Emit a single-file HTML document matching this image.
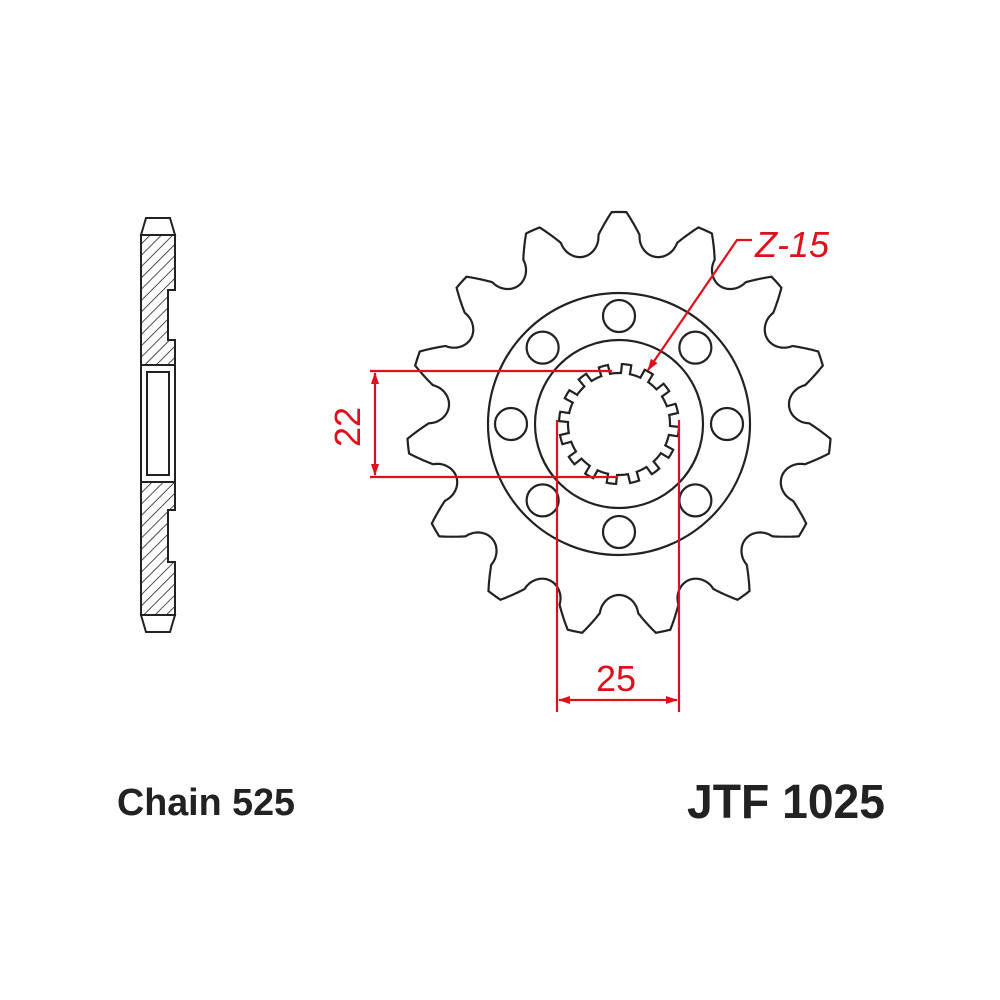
<!DOCTYPE html>
<html><head><style>body{margin:0;background:#fff}svg{display:block}</style></head>
<body>
<svg id="s" width="1000" height="1000" viewBox="0 0 1000 1000" xmlns="http://www.w3.org/2000/svg">
<defs>
<pattern id="h" patternUnits="userSpaceOnUse" width="8" height="8" patternTransform="rotate(45)">
<line x1="0" y1="0" x2="0" y2="8" stroke="#222" stroke-width="1.6"/>
</pattern>
<marker id="a" markerWidth="12" markerHeight="8" refX="11" refY="4" orient="auto" markerUnits="userSpaceOnUse">
<path d="M0,0 L12,4 L0,8 z" fill="#e0101a"/>
</marker>
</defs>
<g fill="none" stroke="#222" stroke-width="2.2">
<path id="teeth"/>
<circle cx="619" cy="424" r="131"/>
<circle cx="619" cy="424" r="84"/>
<path id="spl"/>
<g id="holes"></g>
</g>
<g stroke="#222" stroke-width="2" fill="url(#h)">
<path d="M141,235 L175,235 L175,290 L168,290 L168,340 L175,340 L175,365 L141,365 Z"/>
<path d="M141,482 L175,482 L175,510 L168,510 L168,562 L175,562 L175,615 L141,615 Z"/>
</g>
<g stroke="#222" stroke-width="2" fill="#fff">
<path d="M141,235 L146,218 L170,218 L175,235 Z"/>
<path d="M141,615 L146,632 L170,632 L175,615 Z"/>
<rect x="141" y="365" width="34" height="117"/>
<rect x="147" y="372" width="22" height="103"/>
</g>
<g stroke="#e0101a" stroke-width="2.2" fill="none">
<line x1="370" y1="371" x2="612" y2="371"/>
<line x1="370" y1="477" x2="618" y2="477"/>
<line x1="375" y1="424" x2="375" y2="373" marker-end="url(#a)"/>
<line x1="375" y1="424" x2="375" y2="475" marker-end="url(#a)"/>
<line x1="557" y1="420" x2="557" y2="712"/>
<line x1="679" y1="420" x2="679" y2="712"/>
<line x1="618" y1="700" x2="559" y2="700" marker-end="url(#a)"/>
<line x1="618" y1="700" x2="677" y2="700" marker-end="url(#a)"/>
<polyline points="752,240 737,240 648,370" marker-end="url(#a)"/>
</g>
<g fill="#e0101a" font-family="Liberation Sans, sans-serif" font-size="36">
<text x="755" y="257" font-style="italic">Z-15</text>
<text x="596" y="691">25</text>
<text transform="translate(360,447) rotate(-90)">22</text>
</g>
<g font-family="Liberation Sans, sans-serif" font-weight="bold" fill="#222">
<text x="117" y="815" font-size="38" textLength="178" lengthAdjust="spacingAndGlyphs">Chain 525</text>
<text x="687" y="818" font-size="48" textLength="198" lengthAdjust="spacingAndGlyphs">JTF 1025</text>
</g>
</svg>
<script>
var cx=619,cy=424,N=15;
function P(r,ang){var t=ang*Math.PI/180;return [cx+r*Math.sin(t),cy-r*Math.cos(t)];}
function path(pts){return "M"+pts.map(function(p){return p[0].toFixed(1)+","+p[1].toFixed(1)}).join("L")+"Z";}
var pts=[];
for(var k=0;k<N;k++){
 for(var s=0;s<240;s++){
  var a=k*24+s*0.1; var u=a-k*24;
  var r;
  if(u<2.0||u>22.0) r=212;
  else{var g=Math.abs(u-12)*3.3;
   if(g<19) r=190-Math.sqrt(19*19-g*g); else r=190+(g-19)/(33-19)*22;}
  pts.push(P(r,a));
 }
}
document.getElementById("teeth").setAttribute("d",path(pts));
var sp=[],M=16;
for(var i=0;i<M*40;i++){var a=i*360/(M*40);var u=(a%(360/M))/(360/M);var r=(u>0.1&&u<0.55)?60:51;sp.push(P(r,a));}
document.getElementById("spl").setAttribute("d",path(sp));
var h="";for(var j=0;j<8;j++){var p=P(108,j*45);h+='<circle cx="'+p[0]+'" cy="'+p[1]+'" r="16"/>';}
document.getElementById("holes").innerHTML=h;
</script>
</body></html>
